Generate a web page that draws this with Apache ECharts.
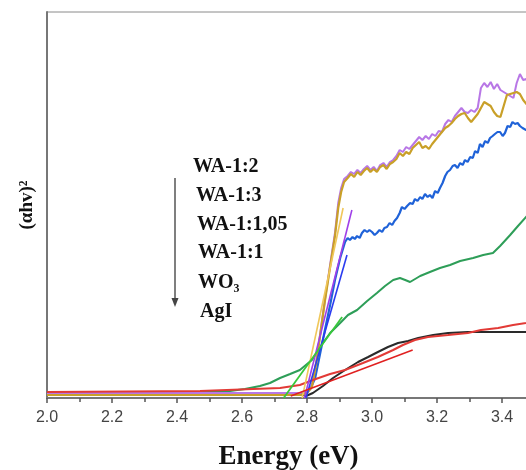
<!DOCTYPE html>
<html><head><meta charset="utf-8">
<script src="https://cdn.jsdelivr.net/npm/echarts@6/dist/echarts.min.js"></script>
<style>html,body{margin:0;padding:0;background:#fff}#c{width:526px;height:470px}</style>
</head><body><div id="c"></div>
<script>
// Energy (eV) / (ahv)^2 pairs (arbitrary units)
const WA12 = [[2.00,5],[2.40,5],[2.70,5],[2.78,5],[2.80,7],[2.815,12],[2.83,40],[2.84,63],[2.855,98],[2.871,133],[2.886,165],[2.896,195],[2.905,210],[2.914,219],[2.925,222],[2.935,226],[2.945,224],[2.955,228],[2.965,225],[2.975,229],[2.985,232],[2.995,228],[3.005,231],[3.015,227],[3.025,233],[3.035,235],[3.045,231],[3.055,236],[3.065,238],[3.075,242],[3.085,248],[3.095,246],[3.105,251],[3.115,249],[3.125,253],[3.135,257],[3.145,261],[3.155,258],[3.165,262],[3.175,259],[3.185,264],[3.195,262],[3.205,267],[3.215,266],[3.225,274],[3.235,278],[3.245,276],[3.255,282],[3.265,286],[3.275,290],[3.285,286],[3.295,285],[3.305,288],[3.315,286],[3.325,290],[3.335,310],[3.345,315],[3.355,311],[3.365,316],[3.375,309],[3.385,314],[3.395,308],[3.405,306],[3.415,304],[3.425,302],[3.435,300],[3.445,315],[3.455,324],[3.465,318],[3.475,319],[3.485,316]];
const WA13 = [[2.00,3],[2.40,3],[2.70,3],[2.78,3],[2.80,5],[2.815,11],[2.83,38],[2.84,62],[2.855,97],[2.871,131],[2.886,162],[2.896,190],[2.905,206],[2.914,216],[2.925,220],[2.935,224],[2.945,221],[2.955,226],[2.965,223],[2.975,227],[2.985,230],[2.995,226],[3.005,229],[3.015,226],[3.025,231],[3.035,233],[3.045,229],[3.055,234],[3.065,236],[3.075,239],[3.085,245],[3.095,242],[3.105,246],[3.115,244],[3.125,250],[3.135,253],[3.145,256],[3.155,250],[3.165,252],[3.175,249],[3.185,254],[3.195,258],[3.205,262],[3.215,266],[3.225,270],[3.235,272],[3.245,275],[3.255,279],[3.265,282],[3.275,284],[3.285,285],[3.295,280],[3.305,276],[3.315,280],[3.325,284],[3.335,290],[3.345,296],[3.355,294],[3.365,292],[3.375,286],[3.385,282],[3.395,281],[3.405,292],[3.415,303],[3.425,304],[3.435,305],[3.445,306],[3.455,304],[3.465,298],[3.475,294],[3.485,292]];
const WA1105 = [[2.00,5],[2.40,5],[2.70,5],[2.78,5],[2.80,6],[2.81,9],[2.825,20],[2.84,44],[2.855,68],[2.871,93],[2.886,118],[2.902,140],[2.917,156],[2.925,160],[2.932,158],[2.94,161],[2.947,159],[2.954,162],[2.962,160],[2.969,165],[2.977,168],[2.985,166],[2.992,168],[3.000,166],[3.008,163],[3.015,165],[3.023,168],[3.031,166],[3.038,170],[3.046,171],[3.054,175],[3.062,173],[3.069,177],[3.077,180],[3.085,185],[3.092,191],[3.100,189],[3.108,192],[3.117,195],[3.125,194],[3.132,199],[3.140,197],[3.148,201],[3.155,199],[3.163,204],[3.171,201],[3.178,203],[3.186,200],[3.194,207],[3.202,205],[3.209,210],[3.217,215],[3.225,222],[3.232,226],[3.240,228],[3.248,232],[3.255,233],[3.263,230],[3.271,235],[3.279,233],[3.286,238],[3.294,236],[3.302,241],[3.31,240],[3.317,247],[3.325,245],[3.332,254],[3.34,251],[3.348,257],[3.356,255],[3.363,260],[3.371,262],[3.378,264],[3.386,266],[3.394,266],[3.402,262],[3.409,265],[3.417,272],[3.425,271],[3.432,276],[3.440,274],[3.448,275],[3.455,272],[3.463,270],[3.474,268],[3.485,268]];
const WA11 = [[2.00,6],[2.471,6],[2.563,7],[2.609,9],[2.655,12],[2.686,15],[2.717,20],[2.748,24],[2.778,28],[2.815,38],[2.849,55],[2.871,65],[2.902,75],[2.926,83],[2.954,88],[2.985,97],[3.015,105],[3.040,112],[3.065,118],[3.086,120],[3.102,118],[3.117,116],[3.148,122],[3.178,126],[3.209,130],[3.240,133],[3.271,137],[3.311,140],[3.342,143],[3.372,145],[3.394,152],[3.425,163],[3.449,172],[3.474,181],[3.485,186]];
const WO3 = [[2.00,4],[2.70,4],[2.78,4],[2.797,2],[2.818,5],[2.849,12],[2.880,20],[2.917,28],[2.957,36],[2.988,41],[3.018,46],[3.049,51],[3.080,55],[3.111,57],[3.142,60],[3.188,63],[3.234,65],[3.295,66],[3.357,66],[3.418,66],[3.485,66]];
const AgI = [[2.00,6],[2.471,7],[2.717,10],[2.778,13],[2.818,18],[2.871,24],[2.917,28],[2.972,35],[3.018,41],[3.065,48],[3.095,53],[3.132,58],[3.172,61],[3.234,63],[3.295,65],[3.335,68],[3.388,70],[3.434,73],[3.474,75],[3.485,76]];
// linear-fit (Tauc) lines: two end points each
const fitWA12 = [[2.792,0],[2.938,188]];
const fitWA13 = [[2.785,0],[2.911,190]];
const fitWA1105 = [[2.797,0],[2.923,143]];
const fitWA11 = [[2.728,0],[2.908,81]];
const fitAgI = [[2.75,2],[3.125,48]];
const legendNames = ['WA-1:2','WA-1:3','WA-1:1,05','WA-1:1','WO₃','AgI'];
const xTicks = [2.0,2.2,2.4,2.6,2.8,3.0,3.2,3.4];

const chart = echarts.init(document.getElementById('c'));
function ln(name, data, color, w, z){
  return {name, type:'line', data, showSymbol:false, symbol:'none', smooth:false, z:z||2,
    lineStyle:{color, width:w}, itemStyle:{color}, animation:false};
}
const legendX = [193,196,197,198,198,200];
const legendY = [168,197,226,254,284,313];
chart.setOption({
  animation:false,
  grid:{left:47, right:-4, top:12, bottom:72, show:true, borderColor:'#8a8a8a', borderWidth:1,
    containLabel:false, outerBoundsMode:'none'},
  xAxis:{type:'value', min:2.0, max:3.486, interval:0.2,
    name:'Energy (eV)', nameLocation:'middle', nameGap:46,
    nameTextStyle:{fontFamily:'Liberation Serif', fontWeight:'bold', fontSize:27, color:'#111'},
    axisLine:{show:true, lineStyle:{color:'#777', width:2}},
    axisTick:{show:true, inside:false, length:5, lineStyle:{color:'#555', width:1.5},
      customValues: xTicks},
    minorTick:{show:true, splitNumber:2, length:4, lineStyle:{color:'#555', width:1.5}},
    splitLine:{show:false},
    axisLabel:{margin:12, fontFamily:'Liberation Sans', fontSize:16, color:'#444',
      customValues: xTicks,
      formatter:v=> xTicks.some(t=>Math.abs(t-v)<1e-6) ? v.toFixed(1) : ''}
  },
  yAxis:{type:'value', min:0, max:386,
    name:'(αhv)²', nameLocation:'middle', nameGap:10, nameRotate:90,
    nameTextStyle:{fontFamily:'Liberation Serif', fontWeight:'bold', fontSize:19, color:'#111'},
    axisLine:{show:true, lineStyle:{color:'#777', width:2}},
    axisTick:{show:false}, axisLabel:{show:false}, splitLine:{show:false}
  },
  series:[
    ln('WO3', WO3, '#2a2a2a', 2, 2),
    ln('WA-1:1,05', WA1105, '#1f62d8', 2.2, 3),
    ln('WA-1:1', WA11, '#2e9e58', 2, 3),
    ln('WA-1:2', WA12, '#b877e6', 2, 3),
    ln('WA-1:3', WA13, '#c9a028', 2.2, 4),
    ln('AgI', AgI, '#e23a36', 2, 4),
    ln('fit WA-1:2', fitWA12, '#a040e8', 1.6, 5),
    ln('fit WA-1:3', fitWA13, '#f0c75a', 1.6, 5),
    ln('fit WA-1:1,05', fitWA1105, '#2a3cf0', 1.6, 5),
    ln('fit WA-1:1', fitWA11, '#38c83a', 1.8, 5),
    ln('fit AgI', fitAgI, '#e02020', 1.5, 5)
  ],
  graphic:[
    {type:'line', shape:{x1:175, y1:178, x2:175, y2:300}, style:{stroke:'#555', lineWidth:1.5}},
    {type:'polygon', shape:{points:[[171.5,298],[178.5,298],[175,307]]}, style:{fill:'#444'}}
  ].concat(legendNames.map((t,i)=>({type:'text', left:legendX[i], top:legendY[i]-11,
    style:{text:t, fill:'#111', font:'bold 20px "Liberation Serif"'}})))
});
</script></body></html>
